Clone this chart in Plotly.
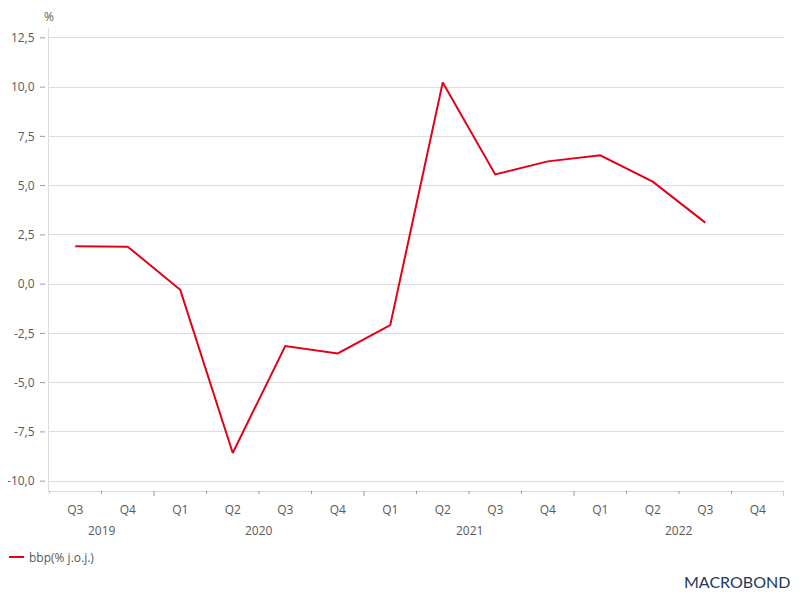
import plotly.graph_objects as go

# ---- data ----
quarters = ["Q3", "Q4", "Q1", "Q2", "Q3", "Q4", "Q1", "Q2", "Q3", "Q4", "Q1", "Q2", "Q3", "Q4"]
years = ["2019", "2020", "2021", "2022"]
year_span = [2, 4, 4, 4]  # number of quarters shown per year
bbp = [1.92, 1.90, -0.29, -8.57, -3.14, -3.52, -2.08, 10.24, 5.57, 6.23, 6.54, 5.20, 3.12, None]
series_name = "bbp(% j.o.j.)"
y_tickvals = [-10, -7.5, -5, -2.5, 0, 2.5, 5, 7.5, 10, 12.5]
y_ticktext = ["-10,0", "-7,5", "-5,0", "-2,5", "0,0", "2,5", "5,0", "7,5", "10,0", "12,5"]

RED = "#E2001A"
GRID = "#DCDCDC"
TXT = "#595959"
FONT = "Open Sans"

x_idx = list(range(len(quarters)))

# screen -> paper helpers (plot area: x 49..784, y 28..491 on screen)
def px(xs):
    return (xs - 49) / 735

def py(ys):
    return (491 - ys) / 463

fig = go.Figure()
fig.add_trace(go.Scatter(
    x=x_idx, y=bbp, mode="lines", name=series_name,
    line=dict(color=RED, width=2), connectgaps=False, showlegend=False,
))

shapes = []
year_bounds = set()
acc = 0
year_centers = []
for span in year_span:
    year_bounds.add(acc - 0.5)
    year_centers.append(acc + (span - 1) / 2)
    acc += span
year_bounds.add(acc - 0.5)
for i in range(len(quarters) + 1):
    b = i - 0.5
    ln = 5 if (b in year_bounds and b > -0.5) else 3
    shapes.append(dict(type="line", xref="x", yref="paper", ysizemode="pixel", yanchor=0,
                       x0=b, x1=b, y0=0, y1=-ln, line=dict(color="#9a9a9a", width=1)))

# y tick marks (short dashes, slightly detached from the axis line)
for v in y_tickvals:
    shapes.append(dict(type="line", xref="paper", yref="y", xsizemode="pixel", xanchor=0,
                       x0=-9, x1=-4, y0=v, y1=v, line=dict(color="#9a9a9a", width=1)))

# legend sample
shapes.append(dict(type="line", xref="paper", yref="paper",
                   x0=px(9), x1=px(24), y0=py(557), y1=py(557),
                   line=dict(color=RED, width=2)))

annotations = []
for yr, xc in zip(years, year_centers):
    annotations.append(dict(text=yr, x=xc, xref="x", y=py(530), yref="paper",
                            showarrow=False, font=dict(family=FONT, size=12, color=TXT),
                            xanchor="center", yanchor="middle"))
annotations.append(dict(text="%", x=px(49), xref="paper", y=py(17), yref="paper",
                        showarrow=False, font=dict(family=FONT, size=12, color=TXT),
                        xanchor="center", yanchor="middle"))
annotations.append(dict(text=series_name, x=px(27), xref="paper", y=py(557),
                        yref="paper", showarrow=False, font=dict(family=FONT, size=12, color=TXT),
                        xanchor="left", yanchor="middle"))
annotations.append(dict(text="MACROBOND", x=px(792), xref="paper", y=py(581),
                        yref="paper", showarrow=False,
                        font=dict(family="Lato", size=16, color="#24385B"),
                        xanchor="right", yanchor="middle"))

fig.update_layout(
    width=800, height=600,
    margin=dict(l=41, r=24, t=20, b=117),
    paper_bgcolor="white", plot_bgcolor="white",
    font=dict(family=FONT, size=12, color=TXT),
    xaxis=dict(
        range=[-0.5, len(quarters) - 0.5], tickvals=x_idx, ticktext=quarters,
        ticks="", showgrid=False, zeroline=False, showline=True, linecolor=GRID, linewidth=1,
        ticklabelstandoff=8, tickfont=dict(family=FONT, size=12, color=TXT), automargin=False,
    ),
    yaxis=dict(
        range=[-10.5, 13.0], tickvals=y_tickvals, ticktext=y_ticktext,
        ticks="", ticklabelstandoff=11, showgrid=True, gridcolor=GRID,
        zeroline=False, showline=True, linecolor=GRID, linewidth=1,
        tickfont=dict(family=FONT, size=12, color=TXT), automargin=False,
    ),
    shapes=shapes, annotations=annotations,
)

fig.write_html("out.html")
